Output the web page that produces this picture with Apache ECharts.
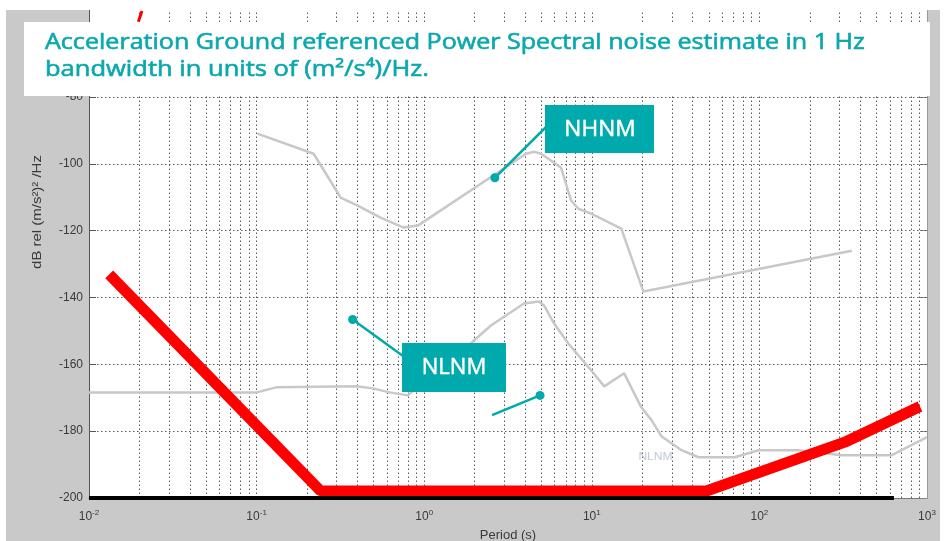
<!DOCTYPE html>
<html><head><meta charset="utf-8">
<script src="https://cdn.jsdelivr.net/npm/echarts@6/dist/echarts.min.js"></script>
<style>html,body{margin:0;padding:0;background:#fff}#c{width:949px;height:541px}</style>
</head><body><div id="c"></div>
<script>
// ---- data ----
const xTickValues = [0.01, 0.1, 1, 10, 100, 1000];
const yTickValues = [-200, -180, -160, -140, -120, -100, -80, -60];
const hGridDb = [-180, -160, -140, -120, -100, -80, -60];
const decades = [-2, -1, 0, 1, 2];
const minorMultipliers = [1, 2, 3, 4, 5, 6, 7, 8, 9];

const nhnmPeriod = [0.101, 0.219, 0.317, 0.401, 0.549, 0.755, 0.916, 4.05, 4.52, 4.98, 5.96, 6.56, 7.53, 8.29, 9.91, 15.0, 20.3, 356];
const nhnmDb     = [-91.0, -97.0, -110.1, -112.5, -116.1, -119.1, -118.5, -97.0, -96.4, -97.0, -99.7, -101.2, -111.0, -113.4, -114.9, -119.4, -138.2, -126.0];

const nlnmPeriod = [0.01, 0.0997, 0.131, 0.395, 0.493, 0.622, 0.798, 1.90, 2.50, 3.94, 4.84, 5.19, 5.96, 7.22, 9.91, 11.86, 15.6, 19.7, 22.7, 26.0, 34.3, 43.3, 71.1, 98.9, 171, 310, 618, 1000];
const nlnmDb     = [-168.4, -168.4, -166.9, -166.6, -167.2, -168.4, -169.3, -153.7, -148.4, -141.8, -141.2, -142.4, -147.8, -153.7, -161.8, -166.6, -162.7, -172.8, -176.7, -181.5, -185.7, -187.8, -187.8, -185.7, -185.7, -187.2, -187.2, -181.8];

const modelPeriod = [0.0132, 0.241, 48.3, 323, 908];
const modelDb     = [-133.1, -197.9, -197.9, -183.3, -172.6];

const floorPeriod = [0.01, 635];
const floorDb     = [-200, -200];

const topMarkPeriod = [0.0197, 0.0207];
const topMarkDb     = [-57.5, -54.3];

// annotation anchors (data coordinates)
const nhnmDot = [2.64, -104.2];
const nlnmDot1 = [0.374, -146.6];
const nlnmDot2 = [4.91, -169.3];
const nlnmTail = [2.54, -175.2];
const faintLabelPos = [24.0, -187.8];

const titleLines = ['Acceleration Ground referenced Power Spectral noise estimate in 1 Hz', 'bandwidth in units of (m²/s⁴)/Hz.'];
const xName = 'Period (s)';
const yName = 'dB rel (m/s²)² /Hz';

// ---- build ----
const zip = (a, b) => a.map((v, i) => [v, b[i]]);
const vGrid = [];
decades.forEach(d => minorMultipliers.forEach(m => {
  const v = +(m * Math.pow(10, d)).toPrecision(6);
  if (v > 0.01 && v < 1000) vGrid.push(v);
}));

const chart = echarts.init(document.getElementById('c'));
const TEAL = '#00a9ac';
const GRIDDASH = { color: '#5a5a5a', width: 1, type: [1.5, 2.5] };
const tickFont = "'Liberation Sans', Arial, sans-serif";

chart.setOption({
  animation: false,
  backgroundColor: '#c9c9c9',
  grid: { left: 89, right: 22, top: 10, bottom: 43, show: true, backgroundColor: '#ffffff', borderWidth: 0 },
  xAxis: {
    type: 'log', logBase: 10, min: 0.01, max: 1000,
    axisLine: { show: true, lineStyle: { color: '#777', width: 1 } },
    axisTick: { show: false },
    splitLine: { show: false },
    axisLabel: {
      customValues: xTickValues,
      margin: 11,
      formatter: v => '{b|10}{s|' + Math.round(Math.log10(v)) + '}',
      rich: {
        b: { fontSize: 12, fontFamily: tickFont, color: '#3a3a3a' },
        s: { fontSize: 8, fontFamily: tickFont, color: '#3a3a3a', padding: [0, 0, 8, 0] }
      }
    }
  },
  yAxis: [{
    type: 'value', min: -200, max: -54,
    axisLine: { show: true, lineStyle: { color: '#555', width: 1 } },
    axisTick: { show: true, inside: true, length: 7, customValues: yTickValues, lineStyle: { color: '#555' } },
    splitLine: { show: false },
    axisLabel: { customValues: yTickValues, margin: 6, fontSize: 12, fontFamily: tickFont, color: '#3a3a3a' }
  }, {
    type: 'value', min: -200, max: -54, position: 'right',
    axisLine: { show: true, lineStyle: { color: '#999', width: 1 } },
    axisTick: { show: true, inside: true, length: 7, customValues: yTickValues, lineStyle: { color: '#888' } },
    splitLine: { show: false },
    axisLabel: { show: false }
  }],
  series: [
    {
      type: 'line', data: [], z: 1, silent: true,
      markLine: {
        z: 1, silent: true, symbol: ['none', 'none'], label: { show: false },
        lineStyle: GRIDDASH,
        data: vGrid.map(v => ({ xAxis: v })).concat(hGridDb.map(v => ({ yAxis: v })))
      }
    },
    { name: 'NHNM', type: 'line', z: 3, data: zip(nhnmPeriod, nhnmDb), symbol: 'none', lineStyle: { color: '#c8c8c8', width: 2.5 } },
    { name: 'NLNM', type: 'line', z: 3, data: zip(nlnmPeriod, nlnmDb), symbol: 'none', lineStyle: { color: '#c8c8c8', width: 2.5 } },
    { name: 'model', type: 'line', z: 4, data: zip(modelPeriod, modelDb), symbol: 'none', lineStyle: { color: '#ff0000', width: 11 } },
    { name: 'mark', type: 'line', z: 4, data: zip(topMarkPeriod, topMarkDb), symbol: 'none', lineStyle: { color: '#ff0000', width: 3 } },
    { name: 'floor', type: 'line', z: 5, clip: false, data: zip(floorPeriod, floorDb), symbol: 'none', lineStyle: { color: '#000000', width: 4 } }
  ]
});

const px = v => chart.convertToPixel({ gridIndex: 0 }, v);
const d0 = px(nhnmDot), d1 = px(nlnmDot1), d2 = px(nlnmDot2), t2 = px(nlnmTail), fl = px(faintLabelPos);
const titleFont = "'Open Sans', 'Noto Sans', sans-serif";
const titleStyle = { fontSize: 22, fontFamily: titleFont, fill: '#0aa8ad', stroke: '#0aa8ad', lineWidth: 0.6, verticalAlign: 'middle' };

chart.setOption({
  graphic: [
    // white page margins outside the figure
    { type: 'rect', z: 100, shape: { x: 0, y: 0, width: 949, height: 10 }, style: { fill: '#fff' } },
    { type: 'rect', z: 100, shape: { x: 0, y: 0, width: 6, height: 541 }, style: { fill: '#fff' } },
    { type: 'rect', z: 100, shape: { x: 940, y: 0, width: 9, height: 541 }, style: { fill: '#fff' } },
    // axis names
    { type: 'text', z: 50, x: 508, y: 535, style: { text: xName, fontSize: 13, fontFamily: tickFont, fill: '#3a3a3a', align: 'center', verticalAlign: 'middle' } },
    { type: 'text', z: 50, x: 37, y: 212, rotation: Math.PI / 2, scaleX: 1.15, style: { text: yName, fontSize: 13, fontFamily: tickFont, fill: '#3a3a3a', align: 'center', verticalAlign: 'middle' } },
    // faint in-plot label
    { type: 'text', z: 50, x: fl[0], y: fl[1], scaleX: 1.1, style: { text: 'NLNM', fontSize: 11, fontFamily: tickFont, fill: '#c2c9d8', align: 'center', verticalAlign: 'middle' } },
    // title box
    { type: 'rect', z: 100, shape: { x: 24, y: 22, width: 906, height: 74 }, style: { fill: '#fff' } },
    { type: 'text', z: 101, x: 45, y: 43, scaleX: 1.14, style: Object.assign({ text: titleLines[0] }, titleStyle) },
    { type: 'text', z: 101, x: 45, y: 70, scaleX: 1.16, style: Object.assign({ text: titleLines[1] }, titleStyle) },
    // NHNM callout
    { type: 'line', z: 90, shape: { x1: 546, y1: 127, x2: d0[0], y2: d0[1] }, style: { stroke: TEAL, lineWidth: 2.5 } },
    { type: 'circle', z: 91, shape: { cx: d0[0], cy: d0[1], r: 4.5 }, style: { fill: TEAL } },
    { type: 'rect', z: 92, shape: { x: 545, y: 105, width: 109, height: 48 }, style: { fill: TEAL } },
    { type: 'text', z: 93, x: 600, y: 130, scaleX: 1.08, style: { text: 'NHNM', fontSize: 21, fontFamily: titleFont, fill: '#fff', stroke: '#fff', lineWidth: 0.4, align: 'center', verticalAlign: 'middle' } },
    // NLNM callout
    { type: 'line', z: 90, shape: { x1: d1[0], y1: d1[1], x2: 403, y2: 356 }, style: { stroke: TEAL, lineWidth: 2.5 } },
    { type: 'circle', z: 91, shape: { cx: d1[0], cy: d1[1], r: 4.5 }, style: { fill: TEAL } },
    { type: 'line', z: 90, shape: { x1: t2[0], y1: t2[1], x2: d2[0], y2: d2[1] }, style: { stroke: TEAL, lineWidth: 2.5 } },
    { type: 'circle', z: 91, shape: { cx: d2[0], cy: d2[1], r: 4.5 }, style: { fill: TEAL } },
    { type: 'rect', z: 92, shape: { x: 402, y: 343, width: 104, height: 49 }, style: { fill: TEAL } },
    { type: 'text', z: 93, x: 454, y: 368, scaleX: 1.05, style: { text: 'NLNM', fontSize: 21, fontFamily: titleFont, fill: '#fff', stroke: '#fff', lineWidth: 0.4, align: 'center', verticalAlign: 'middle' } }
  ]
});
</script></body></html>
